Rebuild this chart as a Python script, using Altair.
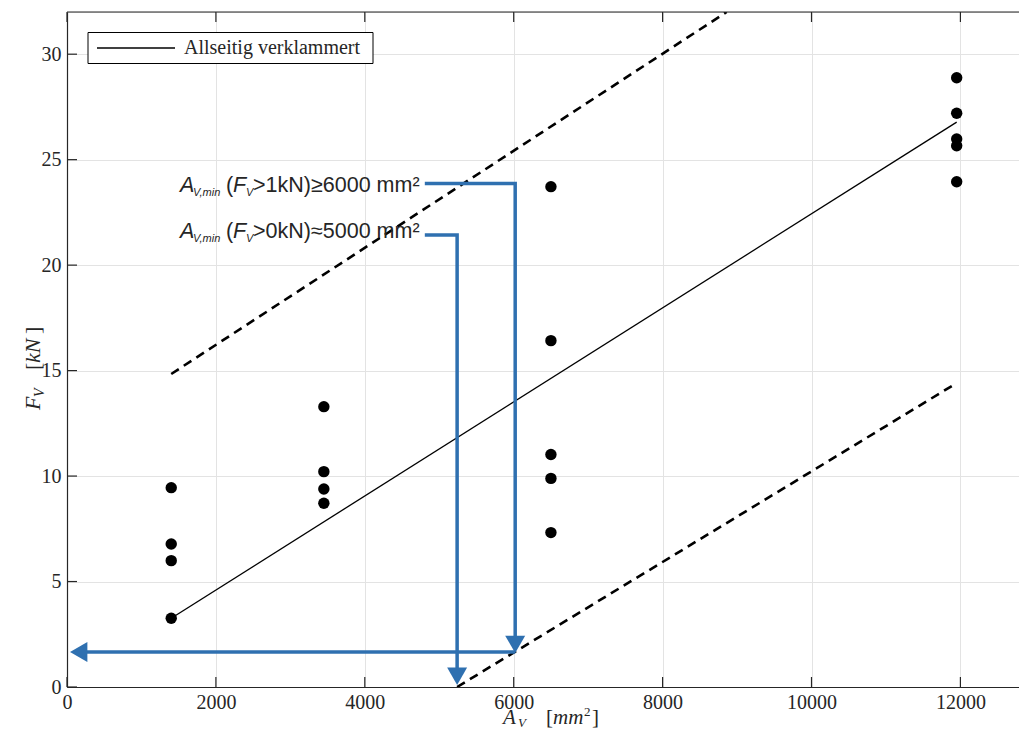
import altair as alt
import pandas as pd

# ---------------- data ----------------
pt_x = [1400, 1400, 1400, 1400,
        3450, 3450, 3450, 3450,
        6500, 6500, 6500, 6500, 6500,
        11950, 11950, 11950, 11950, 11950]
pt_y = [9.45, 6.78, 5.99, 3.26,
        13.29, 10.21, 9.39, 8.71,
        23.72, 16.42, 11.02, 9.89, 7.32,
        28.88, 27.20, 25.98, 25.66, 23.95]

fit_x = [1400, 11950]
fit_y = [3.26, 26.78]

band_name = ["upper", "upper", "lower", "lower"]
band_x = [1400, 8860, 5240, 11950]
band_y = [14.84, 32.0, 0.0, 14.41]

arrow_path = ["a1", "a1", "a1", "a2", "a2", "a2", "a3", "a3"]
arrow_x = [4806, 6020, 6020, 4806, 5240, 5240, 6020, 157]
arrow_y = [23.87, 23.87, 2.02, 21.43, 21.43, 0.51, 1.66, 1.66]

head_down_x = [6020, 5240]
head_down_y = [2.02, 0.51]
head_left_x = [157]
head_left_y = [1.66]

x_ticks = [0, 2000, 4000, 6000, 8000, 10000, 12000]
y_ticks = [0, 5, 10, 15, 20, 25, 30]

legend_label = "Allseitig verklammert"
ann_rest = [">1kN)≥6000 mm²", ">0kN)≈5000 mm²"]
ann_y = [23.47, 21.29]
ann_x = 1518

W, H = 952, 675
INK = "#262626"
BLUE = "#2f70b0"

xaxis = alt.Axis(values=x_ticks, title=None, grid=True, gridColor="#e3e3e3", gridWidth=1,
                 ticks=False, tickSize=0, labelFont="Liberation Serif", labelFontSize=20,
                 labelColor=INK, labelPadding=5, domainColor=INK, domainWidth=1.2,
                 labelFlush=False, format="d")
yaxis = alt.Axis(values=y_ticks, title=None, grid=True, gridColor="#e3e3e3", gridWidth=1,
                 ticks=False, tickSize=0, labelFont="Liberation Serif", labelFontSize=20,
                 labelColor=INK, labelPadding=6, domainColor=INK, domainWidth=1.2,
                 labelFlush=False, format="d")
xs = alt.Scale(domain=[0, 12787], nice=False, zero=False)
ys = alt.Scale(domain=[0, 32], nice=False, zero=False)


def X():
    return alt.X("x:Q", scale=xs, axis=xaxis)


def Y():
    return alt.Y("y:Q", scale=ys, axis=yaxis)


pts = pd.DataFrame({"x": pt_x, "y": pt_y})
fit = pd.DataFrame({"x": fit_x, "y": fit_y})
band = pd.DataFrame({"g": band_name, "x": band_x, "y": band_y})
arr = pd.DataFrame({"g": arrow_path, "x": arrow_x, "y": arrow_y, "o": list(range(len(arrow_x)))})

layers = []
layers.append(alt.Chart(band).mark_line(color="black", strokeWidth=2.6, strokeDash=[9, 6], clip=True)
              .encode(x=X(), y=Y(), detail="g:N"))
layers.append(alt.Chart(fit).mark_line(color="black", strokeWidth=1.3).encode(x=X(), y=Y()))
layers.append(alt.Chart(pts).mark_circle(color="black", size=130, opacity=1).encode(x=X(), y=Y()))
layers.append(alt.Chart(arr).mark_line(color=BLUE, strokeWidth=3.5, strokeJoin="miter", strokeCap="butt")
              .encode(x=X(), y=Y(), detail="g:N", order="o:Q"))
layers.append(alt.Chart(pd.DataFrame({"x": head_down_x, "y": head_down_y}))
              .mark_point(shape="triangle-down", filled=True, color=BLUE, size=400, opacity=1)
              .encode(x=X(), y=Y()))
layers.append(alt.Chart(pd.DataFrame({"x": head_left_x, "y": head_left_y}))
              .mark_point(shape="triangle-left", filled=True, color=BLUE, size=400, opacity=1)
              .encode(x=X(), y=Y()))


def dpiece(text, xv, yv, dx=0, dy=0, size=21, italic=False, font="Liberation Sans"):
    df = pd.DataFrame({"x": [xv], "y": [yv], "t": [text]})
    return alt.Chart(df).mark_text(align="left", baseline="alphabetic", dx=dx, dy=dy, fontSize=size,
                                   fontStyle="italic" if italic else "normal", font=font,
                                   color=INK).encode(x=X(), y=Y(), text="t:N")


for rest, yv in zip(ann_rest, ann_y):
    layers.append(dpiece("A", ann_x, yv, 0, 0, 21.5, True))
    layers.append(dpiece("V,min", ann_x, yv, 13, 4, 11, True))
    layers.append(dpiece("(", ann_x, yv, 46, 0, 21.5))
    layers.append(dpiece("F", ann_x, yv, 53, 0, 21.5, True))
    layers.append(dpiece("V", ann_x, yv, 66, 4, 11, True))
    layers.append(dpiece(rest, ann_x, yv, 73, 0, 21.5))


def ppiece(text, px, py, dx=0, dy=0, size=22, italic=False, font="Liberation Serif", angle=0):
    df = pd.DataFrame({"t": [text]})
    return alt.Chart(df).mark_text(align="left", baseline="alphabetic", dx=dx, dy=dy, fontSize=size,
                                   fontStyle="italic" if italic else "normal", font=font,
                                   color=INK, angle=angle).encode(
        x=alt.value(px), y=alt.value(py), text="t:N")


# x axis title  A_V [mm^2]
XT = (436, 712)
layers.append(ppiece("A", *XT, 0, 0, 21, True))
layers.append(ppiece("V", *XT, 15, 3, 13, True))
layers.append(ppiece("[", *XT, 43, 0, 21))
layers.append(ppiece("mm", *XT, 50, 0, 21, True))
layers.append(ppiece("2", *XT, 81, -8, 13))
layers.append(ppiece("]", *XT, 89, 0, 21))

# y axis title  F_V [kN]  (rotated)
YT = (-27, 398)
layers.append(ppiece("F", *YT, 0, 0, 22, True, angle=270))
layers.append(ppiece("V", *YT, 13, 4, 14, True, angle=270))
layers.append(ppiece("[", *YT, 40, 0, 22, angle=270))
layers.append(ppiece("kN", *YT, 47, 0, 22, True, angle=270))
layers.append(ppiece("]", *YT, 76, 0, 22, angle=270))

# legend box
one = pd.DataFrame({"k": [0]})
layers.append(alt.Chart(one).mark_rect(fill="white", stroke="black", strokeWidth=1)
              .encode(x=alt.value(21), x2=alt.value(306), y=alt.value(20.5), y2=alt.value(51.5)))
layers.append(alt.Chart(one).mark_rule(color="black", strokeWidth=1.3)
              .encode(x=alt.value(30), x2=alt.value(108), y=alt.value(36)))
layers.append(ppiece(legend_label, 117, 41.5, 0, 0, 20))

# top border of the box (right edge lies outside the picture)
layers.append(alt.Chart(one).mark_rule(color=INK, strokeWidth=1.2)
              .encode(x=alt.value(0), x2=alt.value(W), y=alt.value(0)))

# inward ticks (MATLAB style)
xt = pd.DataFrame({"x": x_ticks})
yt = pd.DataFrame({"y": y_ticks})
for yy in [H - 5, 5]:
    layers.append(alt.Chart(xt).mark_tick(color=INK, size=10, thickness=1.2, opacity=1)
                  .encode(x=X(), y=alt.value(yy)))
layers.append(alt.Chart(yt).mark_tick(color=INK, size=10, thickness=1.2, opacity=1)
              .encode(y=Y(), x=alt.value(5)))

chart = alt.layer(*layers).properties(
    width=W, height=H,
    autosize=alt.AutoSizeParams(type="none"),
    padding={"left": 59, "top": 4, "right": 0, "bottom": 41},
).configure_view(stroke=None).configure(background="white")

chart.save("out.html", embed_options={"renderer": "svg", "actions": False})
